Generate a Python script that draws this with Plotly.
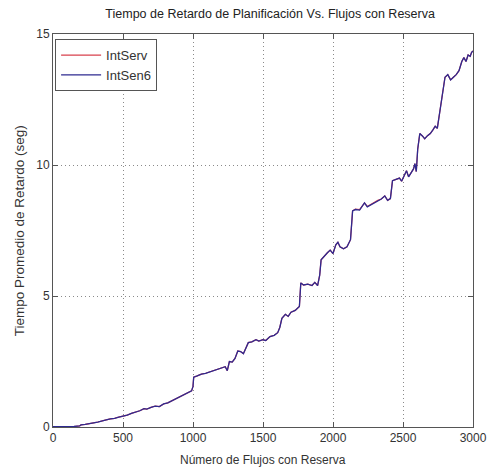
import plotly.graph_objects as go

flujos = [0, 50, 100, 150, 190, 200, 230, 260, 290, 320, 350, 380, 410, 440, 470, 500,
          530, 560, 590, 620, 650, 670, 700, 730, 760, 790, 820, 850, 870, 890, 910, 930,
          950, 970, 990, 1000, 1005, 1030, 1060, 1090, 1120, 1150, 1180, 1210, 1230, 1245,
          1260, 1280, 1300, 1320, 1340, 1360, 1380, 1395, 1420, 1450, 1470, 1500, 1520,
          1550, 1580, 1605, 1620, 1635, 1660, 1680, 1700, 1730, 1760, 1770, 1790, 1820,
          1850, 1870, 1890, 1905, 1915, 1940, 1960, 1980, 2000, 2020, 2035, 2050, 2075,
          2100, 2125, 2140, 2160, 2190, 2210, 2225, 2245, 2270, 2300, 2320, 2345, 2370,
          2390, 2410, 2425, 2450, 2475, 2490, 2510, 2525, 2540, 2560, 2575, 2585, 2595,
          2605, 2620, 2640, 2655, 2675, 2695, 2715, 2730, 2745, 2760, 2775, 2790, 2800,
          2820, 2840, 2860, 2880, 2900, 2920, 2935, 2950, 2965, 2980, 2990, 3000]

intsen6 = [0.01, 0.01, 0.02, 0.02, 0.04, 0.08, 0.10, 0.12, 0.16, 0.19, 0.24, 0.27, 0.31,
           0.33, 0.38, 0.42, 0.45, 0.52, 0.56, 0.62, 0.70, 0.68, 0.75, 0.80, 0.78, 0.88,
           0.92, 1.00, 1.05, 1.10, 1.15, 1.22, 1.26, 1.30, 1.38, 1.55, 1.90, 1.95, 2.02,
           2.05, 2.10, 2.14, 2.20, 2.25, 2.30, 2.15, 2.50, 2.48, 2.62, 2.90, 2.88, 2.80,
           3.05, 3.22, 3.25, 3.33, 3.28, 3.33, 3.30, 3.45, 3.50, 3.60, 3.80, 4.15, 4.30,
           4.22, 4.38, 4.45, 4.60, 5.50, 5.42, 5.45, 5.40, 5.52, 5.40, 5.80, 6.38, 6.55,
           6.65, 6.75, 6.62, 6.95, 7.05, 6.88, 6.80, 6.88, 7.15, 8.25, 8.30, 8.28, 8.42,
           8.55, 8.40, 8.48, 8.55, 8.62, 8.70, 8.82, 8.65, 8.72, 9.40, 9.45, 9.50, 9.38,
           9.62, 9.78, 9.55, 9.72, 9.85, 10.05, 9.75, 10.60, 11.20, 11.10, 11.00, 11.12,
           11.20, 11.35, 11.48, 11.40, 11.90, 12.50, 12.90, 13.35, 13.45, 13.25, 13.35,
           13.45, 13.60, 13.95, 14.10, 13.95, 14.20, 14.15, 14.30, 14.35]

intserv = [0.01, 0.01, 0.02, 0.02, 0.04, 0.08, 0.10, 0.12, 0.16, 0.19, 0.24, 0.27, 0.31,
           0.33, 0.38, 0.42, 0.45, 0.52, 0.56, 0.62, 0.70, 0.68, 0.75, 0.80, 0.78, 0.88,
           0.92, 1.00, 1.05, 1.10, 1.15, 1.22, 1.26, 1.30, 1.38, 1.55, 1.90, 1.95, 2.02,
           2.05, 2.10, 2.14, 2.20, 2.25, 2.30, 2.15, 2.50, 2.48, 2.62, 2.90, 2.88, 2.80,
           3.05, 3.22, 3.25, 3.33, 3.28, 3.33, 3.30, 3.45, 3.50, 3.60, 3.80, 4.15, 4.30,
           4.22, 4.38, 4.45, 4.60, 5.50, 5.42, 5.45, 5.40, 5.52, 5.40, 5.80, 6.38, 6.55,
           6.65, 6.75, 6.62, 6.95, 7.05, 6.88, 6.80, 6.88, 7.15, 8.25, 8.32, 8.30, 8.44,
           8.55, 8.42, 8.50, 8.58, 8.65, 8.70, 8.82, 8.65, 8.72, 9.40, 9.45, 9.50, 9.38,
           9.62, 9.78, 9.55, 9.72, 9.85, 10.05, 9.75, 10.60, 11.20, 11.10, 11.00, 11.12,
           11.20, 11.35, 11.48, 11.40, 11.90, 12.50, 12.90, 13.35, 13.45, 13.25, 13.35,
           13.45, 13.60, 13.95, 14.10, 13.95, 14.20, 14.15, 14.30, 14.35]

x_ticks = [0, 500, 1000, 1500, 2000, 2500, 3000]
y_ticks = [0, 5, 10, 15]

FONT = "Liberation Sans, Arial, sans-serif"

fig = go.Figure()
fig.add_trace(go.Scatter(x=flujos, y=intserv, mode="lines", name="IntServ",
                         line=dict(color="#d8404c", width=1.2)))
fig.add_trace(go.Scatter(x=flujos, y=intsen6, mode="lines", name="IntSen6",
                         line=dict(color="#2e2a90", width=1.3)))

axis_common = dict(
    showline=True, linecolor="#555555", linewidth=1, mirror="ticks",
    ticks="inside", ticklen=5, tickcolor="#555555",
    showgrid=True, gridcolor="#8a8a8a", griddash="1px,3px", gridwidth=1,
    zeroline=False, automargin=False,
    tickfont=dict(family=FONT, size=12, color="#333333"),
)

fig.update_layout(
    width=490, height=460,
    margin=dict(l=45, r=25, t=26, b=41),
    paper_bgcolor="white", plot_bgcolor="white",
    title=dict(text="Tiempo de Retardo de Planificación Vs. Flujos con Reserva",
               x=0.535, xanchor="center", y=0.987, yanchor="middle",
               font=dict(family=FONT, size=12.5, color="#222222")),
    xaxis=dict(range=[0, 3000], tickvals=x_ticks, **axis_common),
    yaxis=dict(range=[0, 15], tickvals=y_ticks, **axis_common),
    legend=dict(x=0.005, y=0.987, xanchor="left", yanchor="top",
                bgcolor="white", bordercolor="#555555", borderwidth=1,
                itemwidth=40, tracegroupgap=0,
                font=dict(family=FONT, size=13, color="#333333")),
    showlegend=True,
    annotations=[
        dict(text="Número de Flujos con Reserva", xref="paper", yref="paper",
             x=0.5, y=-0.084, xanchor="center", yanchor="middle", showarrow=False,
             font=dict(family=FONT, size=12, color="#333333")),
        dict(text="Tiempo Promedio de Retardo (seg)", xref="paper", yref="paper",
             x=-0.079, y=0.5, xanchor="center", yanchor="middle", showarrow=False,
             textangle=-90, font=dict(family=FONT, size=13.5, color="#333333")),
    ],
)

fig.write_html("out.html")
